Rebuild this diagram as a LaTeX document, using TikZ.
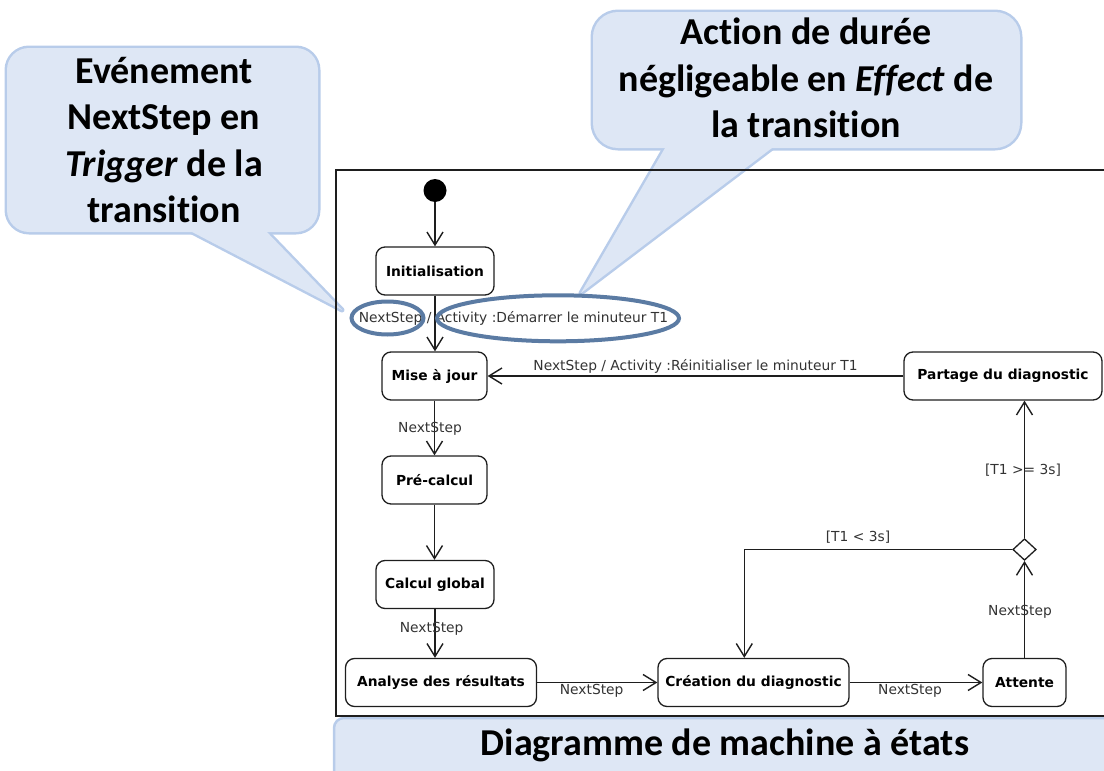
\documentclass[tikz,border=0pt]{standalone}
\usepackage{fontspec}
\setmainfont{Carlito}[Ligatures=NoCommon]
\newfontfamily\umlfont{DejaVu Sans}
\usetikzlibrary{arrows.meta,shapes.geometric}
\definecolor{calloutfill}{HTML}{DEE7F5}
\definecolor{calloutedge}{HTML}{B8CCEA}
\definecolor{hilite}{HTML}{5B7BA3}
\definecolor{ink}{HTML}{1E1E1E}
\definecolor{labelgray}{HTML}{333333}

\begin{document}
\begin{tikzpicture}[x=1pt,y=-1pt,
  state/.style={draw=ink, line width=1.3pt, rounded corners=9pt, minimum height=48pt,
    inner sep=0pt, font=\umlfont\bfseries\fontsize{13.8}{16}\selectfont},
  trans/.style={draw=ink, line width=1.4pt, -{Straight Barb[length=13pt,width=16pt]}},
  lbl/.style={font=\umlfont\fontsize{13.8}{16}\selectfont, text=labelgray, inner sep=0pt},
  bubbleedge/.style={draw=calloutedge, line width=5pt, line join=round},
  bubblefill/.style={fill=calloutfill},
  bubbletext/.style={font=\bfseries\fontsize{38}{46.5}\selectfont, align=center, inner sep=0pt},
  hiliteoval/.style={ellipse, draw=hilite, line width=4pt, inner sep=0pt}
]
\useasboundingbox (0,0) rectangle (1104,771);

% --- callout bubbles (outline pass, then fill pass to merge pointer and body)
\draw[bubbleedge, rounded corners=22pt] (7,48) rectangle (318,232);
\draw[bubbleedge] (169,220) -- (342,310) -- (255.3,220);
\draw[bubbleedge, rounded corners=25pt] (593,12) rectangle (1020,148);
\draw[bubbleedge] (672,136) -- (581,293) -- (787.8,136);
\fill[bubblefill, rounded corners=22pt] (7,48) rectangle (318,232);
\fill[bubblefill] (169,220) -- (342,310) -- (255.3,220) -- cycle;
\fill[bubblefill, rounded corners=25pt] (593,12) rectangle (1020,148);
\fill[bubblefill] (672,136) -- (581,293) -- (787.8,136) -- cycle;

\node[bubbletext] (trigger) at (164,140)
  {Evénement\\NextStep en\\\textit{Trigger} de la\\transition};
\node[bubbletext] (effect) at (806,78)
  {Action de durée\\négligeable en \textit{Effect} de\\la transition};

% --- title bar
\filldraw[fill=calloutfill, draw=calloutedge, line width=2.5pt, rounded corners=10pt]
  (334,718) rectangle (1130,800);
\node[font=\bfseries\fontsize{38}{46}\selectfont, inner sep=0pt, anchor=base]
  (title) at (725,755) {Diagramme de machine à états};

% --- diagram frame
\draw[ink, line width=1.3pt] (1110,170) -- (336,170) -- (336,716) -- (1110,716);

% --- states
\node[circle, fill=black, minimum size=23pt, inner sep=0pt] (start) at (435,190.5) {};
\node[state, minimum width=118pt] (init) at (435,271) {Initialisation};
\node[state, minimum width=105pt] (maj)  at (434.5,376) {Mise à jour};
\node[state, minimum width=105pt] (pre)  at (434.5,480) {Pré-calcul};
\node[state, minimum width=118pt] (calc) at (435,584.5) {Calcul global};
\node[state, minimum width=191pt] (ana)  at (441,682.5) {Analyse des résultats};
\node[state, minimum width=191pt] (crea) at (753.5,682.5) {Création du diagnostic};
\node[state, minimum width=83pt]  (att)  at (1024.5,682.5) {Attente};
\node[state, minimum width=198pt] (part) at (1003,376) {Partage du diagnostic};
\node[diamond, draw=ink, line width=1.3pt, minimum width=23.4pt, minimum height=21.6pt,
  inner sep=0pt] (dia) at (1024.5,549.5) {};
\coordinate (bend) at (744.3,549.5);

% --- transitions
\draw[trans] (start) -- (start |- init.north);
\draw[trans] (init.south) -- (init.south |- maj.north);
\draw[trans] (maj.south) -- (maj.south |- pre.north);
\draw[trans] (pre.south) -- (pre.south |- calc.north);
\draw[trans] (calc.south) -- (calc.south |- ana.north);
\draw[trans] (ana.east) -- (crea.west);
\draw[trans] (crea.east) -- (att.west);
\draw[trans] (att.north) -- (dia.south);
\draw[trans] (dia.north) -- (dia.north |- part.south);
\draw[trans] (dia.west) -- (bend) -- (bend |- crea.north);
\draw[trans] (part.west) -- (part.west -| maj.east);

% --- transition labels
\node[lbl] (t0) at (513.5,318.5) {NextStep / Activity :Démarrer le minuteur T1};
\node[lbl] (t1) at (430,429) {NextStep};
\node[lbl] (t2) at (431.7,629) {NextStep};
\node[lbl] (t3) at (591.7,691) {NextStep};
\node[lbl] (t4) at (910,691) {NextStep};
\node[lbl] (t5) at (1020,611.5) {NextStep};
\node[lbl] (t6) at (1023,470) {[T1 >= 3s]};
\node[lbl] (t7) at (858,537) {[T1 < 3s]};
\node[lbl] (t8) at (695.5,366) {NextStep / Activity :Réinitialiser le minuteur T1};

% --- highlight ovals on trigger and effect
\node[hiliteoval, minimum width=72pt, minimum height=33pt] (ovtrig) at (387.5,318) {};
\node[hiliteoval, minimum width=242pt, minimum height=46pt] (ovfx) at (558,318.3) {};
\end{tikzpicture}
\end{document}
